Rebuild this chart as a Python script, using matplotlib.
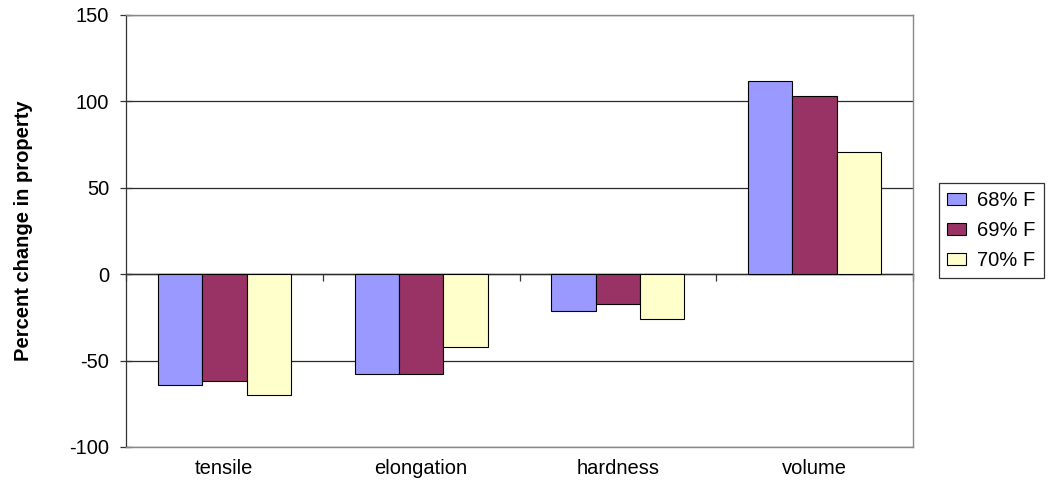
import matplotlib
matplotlib.use("Agg")
import matplotlib.pyplot as plt
import numpy as np

categories = ["tensile", "elongation", "hardness", "volume"]
series_names = ["68% F", "69% F", "70% F"]
f68 = [-64, -58, -21.5, 112]
f69 = [-62, -58, -17, 103]
f70 = [-70, -42, -26, 71]
y_ticks = [-100, -50, 0, 50, 100, 150]

colors = ["#9999FF", "#993366", "#FFFFCC"]

plt.rcParams["font.family"] = ["Liberation Sans", "DejaVu Sans"]

fig = plt.figure(figsize=(10.59, 4.95), dpi=100)
ax = fig.add_axes([126 / 1059, 48 / 495, (913 - 126) / 1059, (447 - 15) / 495])

x = np.arange(len(categories))
bar_w = 0.225
for i, (vals, name, col) in enumerate(zip([f68, f69, f70], series_names, colors)):
    ax.bar(x + (i - 1) * bar_w, vals, width=bar_w, color=col,
           edgecolor="black", linewidth=0.8, label=name, zorder=3)

ax.set_xlim(-0.5, len(categories) - 0.5)
ax.set_ylim(y_ticks[0], y_ticks[-1])
ax.set_yticks(y_ticks)
ax.set_yticklabels([str(v) for v in y_ticks], fontsize=14.5)
ax.yaxis.grid(True, color="#2a2a2a", linewidth=0.9, zorder=0)
ax.set_axisbelow(True)

ax.set_xticks(x)
ax.set_xticklabels(categories, fontsize=14.5)
ax.tick_params(axis="x", length=0, pad=9)
ax.tick_params(axis="y", direction="inout", length=8, width=0.9,
               color="#333333", pad=8)

for side in ["top", "right", "bottom"]:
    ax.spines[side].set_color("#888888")
    ax.spines[side].set_linewidth(1.0)
ax.spines["left"].set_color("#333333")
ax.spines["left"].set_linewidth(0.9)

# category axis crossing at zero, with boundary tick marks
zero_frac = (0 - y_ticks[0]) / (y_ticks[-1] - y_ticks[0])
sec = ax.secondary_xaxis(zero_frac)
sec.set_xticks(np.arange(len(categories) + 1) - 0.5)
sec.set_xticklabels([])
sec.tick_params(direction="out", length=5, width=0.9, color="#333333")
sec.spines["bottom"].set_color("#444444")
sec.spines["bottom"].set_linewidth(1.0)

ax.set_ylabel("Percent change in property", fontsize=14.5, fontweight="bold",
              labelpad=26)

leg = fig.legend(loc="upper left", bbox_to_anchor=(939 / 1059, 1 - 183 / 495),
                 fontsize=14.5, frameon=True, fancybox=False, borderpad=0.4,
                 handlelength=0.95, handleheight=0.55, handletextpad=0.55,
                 labelspacing=0.55, borderaxespad=0)
leg.get_frame().set_edgecolor("black")
leg.get_frame().set_linewidth(0.9)

fig.savefig("out.png", dpi=100)
